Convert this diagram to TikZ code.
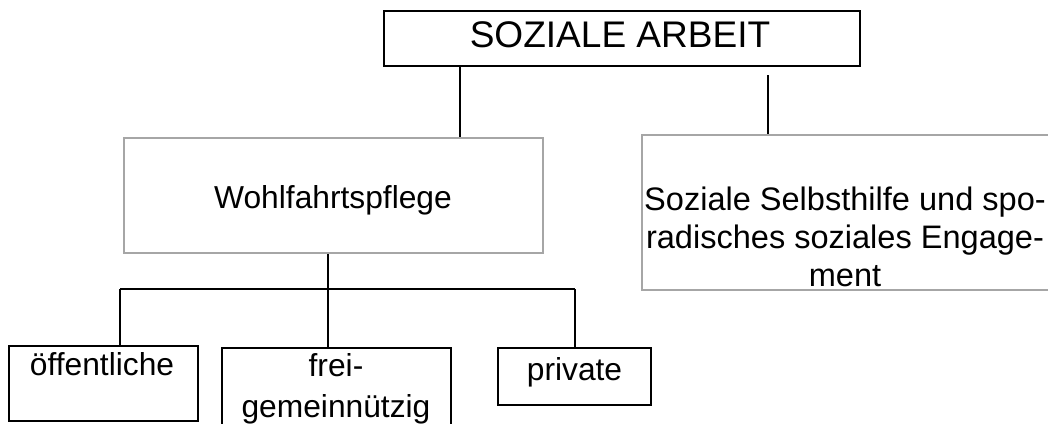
\documentclass[tikz,border=0pt]{standalone}
\usepackage{fontspec}
\setmainfont{Liberation Sans}

\tikzset{
  boxsize/.style 2 args={minimum width=#1*0.378pt, minimum height=#2*0.378pt},
  blackbox/.style={draw=black, line width=0.5pt, inner sep=0pt},
  graybox/.style={draw=black!35, line width=0.8pt, inner sep=0pt},
  boxtext/.style={inner sep=0pt, font=\fontsize{12}{14.4}\selectfont},
  conn/.style={draw=black, line width=0.5pt},
}

\begin{document}
\begin{tikzpicture}[x=0.378pt,y=-0.378pt]

\useasboundingbox (0,0) rectangle (1048,423);

% Top level
\node[blackbox, boxsize={476}{55}] (arbeit) at (622,38.5) {};
\node[boxtext, anchor=base, font=\fontsize{14}{16.8}\selectfont] (arbeit-t) at (620,47) {SOZIALE ARBEIT};

% Second level
\node[graybox, boxsize={419}{115}] (wohl) at (333.5,195.5) {};
\node[boxtext, anchor=base] (wohl-t) at (333,208) {Wohlfahrtspflege};

\node[graybox, boxsize={408}{155}] (selbst) at (846,212.5) {};
\node[boxtext, anchor=north, align=center, font=\fontsize{12.3}{14.4}\selectfont] (selbst-t) at (845,186)
  {Soziale Selbsthilfe und spo-\\radisches soziales Engage-\\ment};

% Third level
\node[blackbox, boxsize={189}{75}] (oeff) at (103.5,383.5) {};
\node[boxtext, anchor=base] (oeff-t) at (102,375) {öffentliche};

\node[blackbox, boxsize={229}{82}] (frei) at (336.5,389) {};
\node[boxtext, anchor=north, align=center, font=\fontsize{12}{15.5}\selectfont] (frei-t) at (336,353)
  {frei-\\gemeinnützig};

\node[blackbox, boxsize={153}{57}] (priv) at (574.5,376.5) {};
\node[boxtext, anchor=base] (priv-t) at (574.5,380) {private};

% Connectors
\coordinate (c1) at (460,0);
\coordinate (c2) at (768,75);
\coordinate (c3) at (328,0);
\coordinate (busl) at (120,289);
\coordinate (busr) at (575,289);

\draw[conn] (c1 |- arbeit.south) -- (c1 |- wohl.north);
\draw[conn] (c2) -- (c2 |- selbst.north);
\draw[conn] (c3 |- wohl.south) -- (c3 |- frei.north);
\draw[conn] (busl) -- (busr);
\draw[conn] (busl) -- (busl |- oeff.north);
\draw[conn] (busr) -- (busr |- priv.north);

\end{tikzpicture}
\end{document}
